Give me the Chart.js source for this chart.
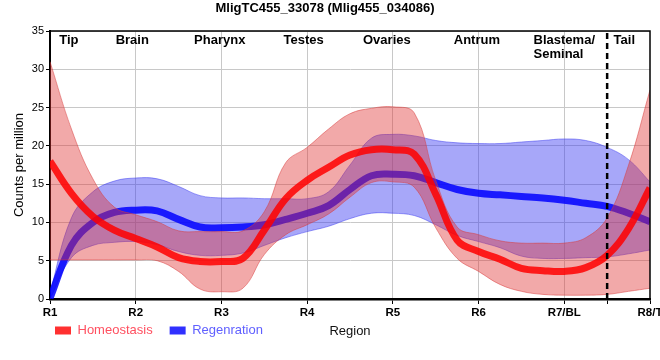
<!DOCTYPE html>
<html><head><meta charset="utf-8">
<script src="https://cdn.jsdelivr.net/npm/chart.js@4.4.0/dist/chart.umd.min.js"></script>
<style>html,body{margin:0;padding:0;background:#fff}#wrap{width:660px;height:360px;position:relative}</style>
</head><body><div id="wrap"><canvas id="c"></canvas></div>
<script>
// ---- data ----
const titleText = 'MligTC455_33078 (Mlig455_034086)';
const regionTicks = ['R1','R2','R3','R4','R5','R6','R7/BL','R8/T'];
const regionNames = ['Tip','Brain','Pharynx','Testes','Ovaries','Antrum',['Blastema/','Seminal'],'Tail'];
const regionNameAt = [1.22,1.96,2.98,3.96,4.93,5.98,7.0,7.7];
const dividerAt = 7.5;
const samplePos = [1,1.25,1.5,1.75,2,2.25,2.5,2.75,3,3.25,3.5,3.75,4,4.25,4.5,4.75,5,5.25,5.5,5.75,6,6.25,6.5,6.75,7,7.25,7.5,7.75,8];
const homeo   = [18.0,13.8,10.8,9.0,7.9,6.8,5.4,4.9,4.9,5.3,9.0,13.1,15.5,17.2,18.8,19.5,19.5,18.9,13.7,7.7,6.2,5.2,4.0,3.7,3.6,4.1,5.7,9.2,14.5];
const homeoHi = [31.0,22.2,15.7,12.0,11.0,10.1,8.9,8.8,8.8,8.9,11.4,17.8,19.8,22.2,24.2,24.9,25.1,24.3,15.5,9.4,8.4,7.6,7.3,7.3,7.3,8.0,10.6,17.5,27.3];
const homeoLo = [5.1,5.1,5.1,5.1,5.1,5.0,3.6,1.3,0.95,1.4,5.8,8.4,9.7,11.1,13.3,15.2,15.3,14.6,9.3,5.3,3.6,1.9,1.0,0.6,0.5,0.5,0.6,1.0,1.4];
const regen   = [0.1,7.0,10.0,11.3,11.6,11.5,10.4,9.4,9.3,9.4,9.7,10.4,11.2,12.2,14.3,16.1,16.3,16.1,15.2,14.3,13.8,13.6,13.4,13.2,12.9,12.5,12.1,11.2,10.1];
const regenHi = [0.8,10.6,14.0,15.4,15.8,15.7,14.7,13.5,13.2,13.2,13.1,13.1,13.1,14.0,17.5,21.0,21.5,21.3,20.7,20.4,20.3,20.3,20.5,20.7,20.9,20.7,19.8,18.2,15.3];
const regenLo = [0.0,5.4,7.0,7.4,7.5,7.1,6.2,5.7,5.7,6.0,7.0,8.0,8.8,9.5,10.5,11.2,11.2,10.9,9.7,8.3,7.5,6.7,5.6,5.3,5.3,5.4,5.5,5.9,6.4];
const seriesNames = ['Homeostasis','Regenration'];
const yMax = 35;

// ---- chart ----
const FAM = "'Liberation Sans', Arial, sans-serif";
Chart.defaults.font.family = FAM;
const toXY = ys => ys.map((y,i)=>({x:samplePos[i], y}));
const tickPos = regionTicks.map((_,i)=>i+1).concat([dividerAt]).sort((a,b)=>a-b);

const decor = {
  id:'decor',
  afterLayout(chart){
    const lg = chart.legend;
    if (lg) { lg.left = 38; lg.top = 307; }
  },
  afterDatasetsDraw(chart){
    const {ctx, chartArea:a, scales:{x}} = chart;
    ctx.save();
    ctx.strokeStyle = '#000'; ctx.lineWidth = 1.5;
    ctx.beginPath(); ctx.moveTo(a.left, a.top); ctx.lineTo(a.right, a.top); ctx.lineTo(a.right, a.bottom); ctx.stroke();
    ctx.font = 'bold 13px ' + FAM; ctx.fillStyle = '#000'; ctx.textBaseline = 'middle'; ctx.textAlign = 'left';
    regionNames.forEach((n,i)=>{
      const px = x.getPixelForValue(regionNameAt[i]);
      const lines = Array.isArray(n) ? n : [n];
      const w = ctx.measureText(lines[0]).width;
      lines.forEach((ln,j)=> ctx.fillText(ln, px - w/2, a.top + 9 + j*14));
    });
    ctx.restore();
  }
};

const common = {pointRadius:0, pointHoverRadius:0, tension:0.4};
new Chart(document.getElementById('c'), {
  type:'line',
  data:{ datasets:[
    {data:[{x:dividerAt,y:0},{x:dividerAt,y:yMax}], borderColor:'#000', borderWidth:2.5, borderDash:[6,4], pointRadius:0, fill:false, tension:0},
    {...common, label:seriesNames[0], data:toXY(homeo), borderColor:'rgba(255,0,0,0.85)', borderWidth:7, fill:false},
    {...common, label:'hHi', data:toXY(homeoHi), borderColor:'rgba(215,60,60,0.5)', borderWidth:1, backgroundColor:'rgba(225,50,50,0.42)', fill:'+1'},
    {...common, label:'hLo', data:toXY(homeoLo), borderColor:'rgba(215,60,60,0.5)', borderWidth:1, fill:false},
    {...common, label:seriesNames[1], data:toXY(regen), borderColor:'rgba(0,0,255,0.85)', borderWidth:7, fill:false},
    {...common, label:'rHi', data:toXY(regenHi), borderColor:'rgba(60,60,240,0.5)', borderWidth:1, backgroundColor:'rgba(50,50,240,0.43)', fill:'+1'},
    {...common, label:'rLo', data:toXY(regenLo), borderColor:'rgba(60,60,240,0.5)', borderWidth:1, fill:false}
  ]},
  options:{
    responsive:true, maintainAspectRatio:false, animation:false, devicePixelRatio:1,
    layout:{padding:{left:0,right:10,top:0,bottom:3}},
    events:[],
    scales:{
      x:{ type:'linear', min:1, max:8,
        afterBuildTicks: s => { s.ticks = tickPos.map(v=>({value:v})); },
        afterFit: s => { s.height = 18; s.paddingLeft = 0; s.paddingRight = 0; },
        ticks:{ autoSkip:false, maxRotation:0, padding:2, color:'#000', font:{size:11.5, weight:'bold'},
          callback: v => Number.isInteger(v) ? regionTicks[v-1] : '' },
        grid:{ color: c => (c.tick && (c.tick.value===dividerAt || c.tick.value===1 || c.tick.value===8)) ? 'rgba(0,0,0,0)' : '#c8c8c8',
          tickColor:'#000', tickLength:5, lineWidth:1 },
        border:{ color:'#000', width:2.5 },
        title:{ display:true, text:'Region', color:'#111', font:{size:13}, padding:{top:0,bottom:-21.8} }
      },
      y:{ min:0, max:yMax,
        afterFit: s => { s.width = 50; s.paddingTop = 0; s.paddingBottom = 0; },
        ticks:{ stepSize:5, color:'#000', font:{size:11}, padding:2 },
        grid:{ color:'#c8c8c8', tickColor:'#000', tickLength:4 },
        border:{ color:'#000', width:2 },
        title:{ display:true, text:'Counts per million', color:'#000', font:{size:13}, padding:{top:12,bottom:0} }
      }
    },
    plugins:{
      title:{ display:true, text:titleText, color:'#000', font:{size:13, weight:'bold'}, padding:{top:1,bottom:14.4} },
      tooltip:{enabled:false},
      legend:{ display:true, position:'bottom', align:'start', maxHeight:40,
        labels:{ boxWidth:16, boxHeight:8, padding:17, font:{size:13},
          generateLabels: () => [
            {text:seriesNames[0], fillStyle:'#ff3030', strokeStyle:'#ff3030', lineWidth:0, fontColor:'#ff5060', hidden:false, datasetIndex:1},
            {text:seriesNames[1], fillStyle:'#3030ff', strokeStyle:'#3030ff', lineWidth:0, fontColor:'#6060ff', hidden:false, datasetIndex:4}
          ] } }
    }
  },
  plugins:[decor]
});
</script></body></html>
